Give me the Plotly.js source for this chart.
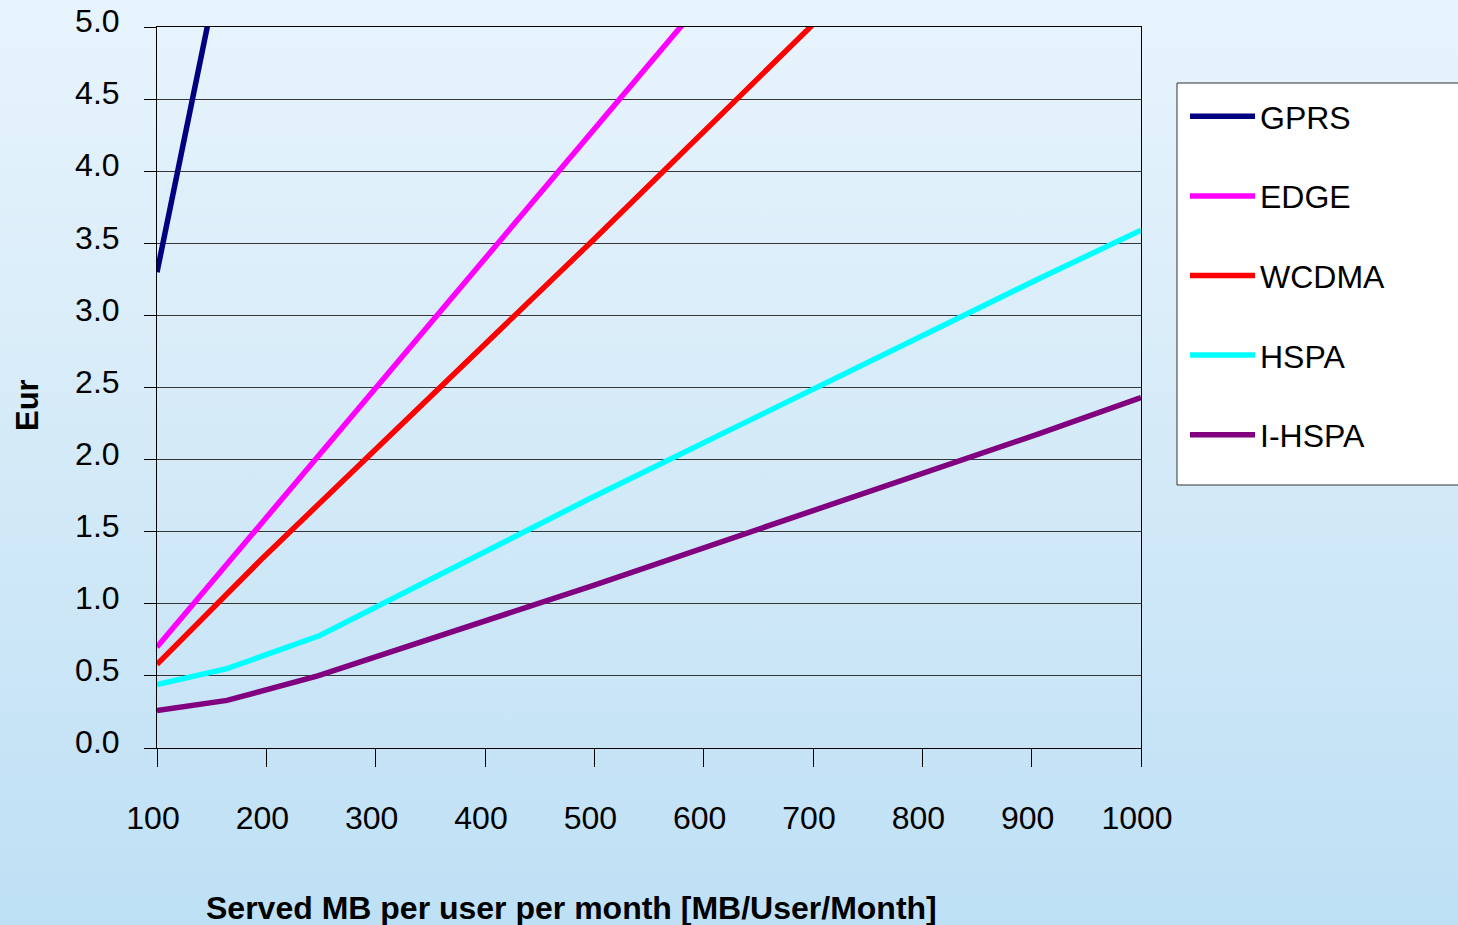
<!DOCTYPE html>
<html>
<head>
<meta charset="utf-8">
<script src="https://cdn.plot.ly/plotly-3.0.1.min.js"></script>
<style>
  html, body { margin: 0; padding: 0; }
  body { width: 1458px; height: 925px; overflow: hidden;
         background: linear-gradient(to bottom, #e8f4fd 0%, #d6ebf8 45%, #bee0f5 100%); }
  #chart { width: 1458px; height: 925px; }
</style>
</head>
<body>
<div id="chart"></div>
<script>
// ---- data ----
const seriesNames = ["GPRS", "EDGE", "WCDMA", "HSPA", "I-HSPA"];
const seriesColors = ["#000080", "#ff00ff", "#ff0000", "#00ffff", "#800080"];

const gprsX  = [100, 200];
const gprsY  = [3.30, 7.00];
const edgeX  = [100, 600];
const edgeY  = [0.70, 5.19];
const wcdmaX = [100, 197, 500, 1000];
const wcdmaY = [0.58, 1.32, 3.53, 7.25];
const hspaX  = [100, 164, 249, 496, 908, 1000];
const hspaY  = [0.44, 0.55, 0.78, 1.73, 3.26, 3.59];
const ihspaX = [100, 164, 247, 500, 907, 1000];
const ihspaY = [0.26, 0.33, 0.50, 1.13, 2.18, 2.43];

const xTickVals = [100, 200, 300, 400, 500, 600, 700, 800, 900, 1000];
const yTickVals = [0.0, 0.5, 1.0, 1.5, 2.0, 2.5, 3.0, 3.5, 4.0, 4.5, 5.0];

const xs = [gprsX, edgeX, wcdmaX, hspaX, ihspaX];
const ys = [gprsY, edgeY, wcdmaY, hspaY, ihspaY];

const FONT = "Liberation Sans, Arial, sans-serif";

const traces = seriesNames.map((name, i) => ({
  type: "scatter",
  mode: "lines",
  name: name,
  x: xs[i],
  y: ys[i],
  legendgroup: name,
  line: { color: seriesColors[i], width: 5.5 }
}));

// plot-area pixel frame used to place the legend box / titles
const PL = 157, PR = 1141, PT = 27, PB = 748;
const PW = PR - PL, PH = PB - PT;
const px = v => (v - PL) / PW;
const py = v => (PB - v) / PH;

const layout = {
  width: 1458,
  height: 925,
  paper_bgcolor: "rgba(0,0,0,0)",
  plot_bgcolor: "rgba(0,0,0,0)",
  margin: { l: PL, r: 1458 - PR, t: PT, b: 925 - PB, autoexpand: false },
  font: { family: FONT, size: 32, color: "#000000" },
  showlegend: true,
  xaxis: {
    range: [100, 1000],
    tickvals: xTickVals,
    ticktext: xTickVals.map(String),
    ticks: "outside",
    ticklen: 18,
    tickwidth: 1,
    tickcolor: "#000000",
    showline: true,
    linecolor: "#000000",
    linewidth: 1,
    mirror: true,
    showgrid: false,
    zeroline: false,
    ticklabelstandoff: 24,
    ticklabelshift: -4,
    tickfont: { family: FONT, size: 32, color: "#000000" },
    fixedrange: true
  },
  yaxis: {
    range: [0, 5],
    tickvals: yTickVals,
    tickformat: ".1f",
    ticks: "outside",
    ticklen: 12,
    tickwidth: 1,
    tickcolor: "#000000",
    showline: true,
    linecolor: "#000000",
    linewidth: 1,
    mirror: true,
    showgrid: true,
    gridcolor: "#363636",
    gridwidth: 1,
    zeroline: false,
    ticklabelstandoff: 18,
    ticklabelshift: -6,
    tickfont: { family: FONT, size: 32, color: "#000000" },
    automargin: false,
    fixedrange: true
  },
  legend: {
    x: px(1185),
    y: py(89),
    xanchor: "left",
    yanchor: "top",
    bgcolor: "rgba(0,0,0,0)",
    borderwidth: 0,
    font: { family: FONT, size: 32, color: "#000000" },
    itemwidth: 65,
    tracegroupgap: 35
  },
  shapes: [{
    type: "rect",
    xref: "paper", yref: "paper",
    x0: px(1177), x1: px(1475),
    y0: py(485), y1: py(83),
    fillcolor: "#ffffff",
    line: { color: "#333333", width: 1 },
    layer: "below"
  }],
  annotations: [{
    text: "<b>Served MB per user per month [MB/User/Month]</b>",
    xref: "paper", yref: "paper",
    x: px(571),
    y: py(908),
    xanchor: "center", yanchor: "middle",
    showarrow: false,
    font: { family: FONT, size: 32, color: "#000000" }
  }, {
    text: "<b>Eur</b>",
    xref: "paper", yref: "paper",
    x: px(27),
    y: py(405),
    textangle: -90,
    xanchor: "center", yanchor: "middle",
    showarrow: false,
    font: { family: FONT, size: 31, color: "#000000" }
  }]
};

Plotly.newPlot("chart", traces, layout, { displayModeBar: false, staticPlot: true });
</script>
</body>
</html>
